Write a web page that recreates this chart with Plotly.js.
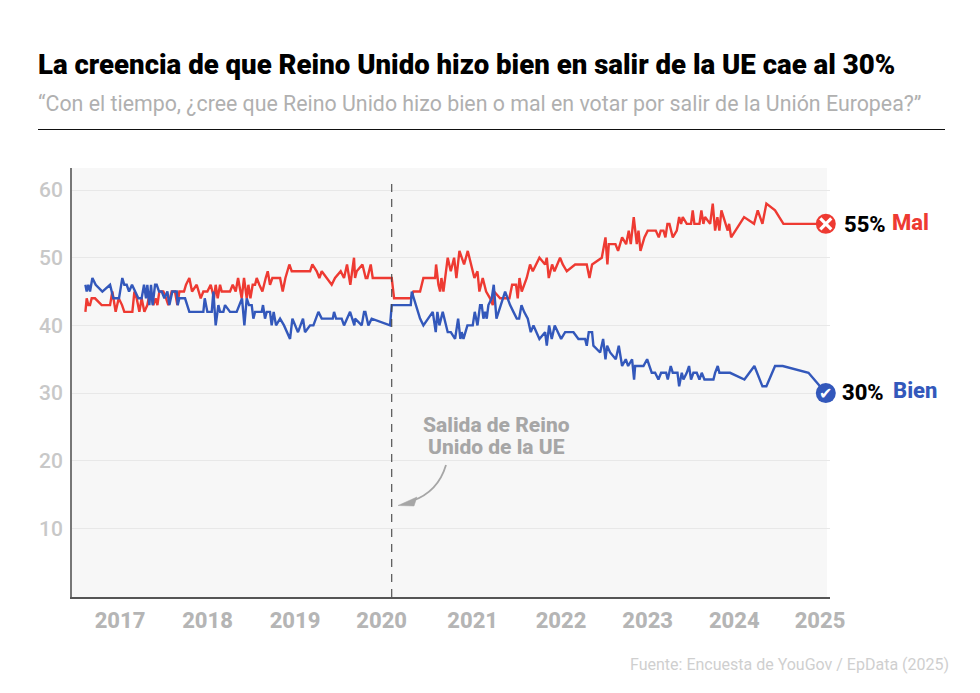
<!DOCTYPE html>
<html><head><meta charset="utf-8">
<script src="https://cdn.plot.ly/plotly-3.0.1.min.js"></script>
<style>html,body{margin:0;padding:0;background:#fff}#chart{width:980px;height:693px}</style>
</head><body><div id="chart"></div>
<script>
const malYears=[2016.604,2016.619,2016.638,2016.657,2016.676,2016.714,2016.790,2016.886,2016.912,2016.950,2016.985,2017.023,2017.049,2017.141,2017.164,2017.190,2017.221,2017.247,2017.278,2017.312,2017.343,2017.381,2017.407,2017.427,2017.449,2017.495,2017.526,2017.552,2017.590,2017.628,2017.655,2017.678,2017.731,2017.754,2017.792,2017.823,2017.876,2017.922,2017.952,2017.998,2018.036,2018.074,2018.093,2018.116,2018.143,2018.162,2018.257,2018.288,2018.322,2018.349,2018.390,2018.417,2018.448,2018.467,2018.490,2018.516,2018.543,2018.562,2018.592,2018.627,2018.665,2018.688,2018.714,2018.741,2018.829,2018.859,2018.890,2018.935,2018.962,2019.172,2019.198,2019.248,2019.278,2019.305,2019.419,2019.457,2019.522,2019.560,2019.594,2019.632,2019.674,2019.686,2019.705,2019.770,2019.808,2019.827,2019.865,2019.888,2020.086,2020.105,2020.132,2020.323,2020.353,2020.429,2020.467,2020.601,2020.612,2020.639,2020.658,2020.673,2020.696,2020.745,2020.780,2020.818,2020.844,2020.879,2020.932,2020.974,2021.031,2021.050,2021.085,2021.107,2021.145,2021.184,2021.229,2021.260,2021.275,2021.344,2021.401,2021.450,2021.481,2021.526,2021.545,2021.565,2021.591,2021.648,2021.686,2021.717,2021.793,2021.858,2021.877,2021.900,2021.938,2021.965,2022.029,2022.060,2022.106,2022.201,2022.334,2022.365,2022.395,2022.506,2022.548,2022.570,2022.586,2022.662,2022.692,2022.738,2022.784,2022.814,2022.837,2022.871,2022.906,2022.925,2022.948,2022.993,2023.031,2023.123,2023.157,2023.180,2023.211,2023.233,2023.256,2023.279,2023.317,2023.363,2023.390,2023.412,2023.431,2023.477,2023.526,2023.545,2023.564,2023.622,2023.644,2023.667,2023.686,2023.744,2023.774,2023.801,2023.827,2023.850,2023.873,2023.926,2023.945,2023.961,2023.984,2024.132,2024.246,2024.288,2024.342,2024.387,2024.486,2024.582,2024.963,2025.066];
const malValues=[42,44,43,43,44,44,43,43,45,42,44,43,42,42,45,44,42,44,42,43,45,43,44,43,45,45,44,43,45,45,43,45,45,46,47,45,46,44,45,45,46,44,46,44,46,45,45,46,45,47,44,47,44,46,44,46,46,47,46,45,47,48,46,47,47,45,47,49,48,48,49,48,47,48,46,47,48,47,49,46,50,47,48,49,47,47,49,47,47,47,44,44,45,45,47,47,49,46,45,47,45,50,48,50,47,51,49,51,48,47,48,45,47,45,44,43,45,44,44,44,46,46,44,47,45,47,49,48,50,49,50,47,49,48,50,49,48,49,49,47,49,50,53,49,52,52,51,53,52,54,52,56,52,54,51,53,54,54,53,54,54,53,55,55,53,54,56,55,56,55,55,57,55,55,57,55,56,55,58,54,56,54,57,55,54,55,53,56,55,57,55,58,57,55,55,55];
const bienYears=[2016.604,2016.619,2016.638,2016.657,2016.684,2016.722,2016.798,2016.886,2016.924,2016.988,2017.026,2017.049,2017.076,2017.103,2017.137,2017.171,2017.209,2017.247,2017.274,2017.297,2017.312,2017.335,2017.354,2017.373,2017.400,2017.419,2017.446,2017.476,2017.507,2017.541,2017.564,2017.598,2017.648,2017.659,2017.678,2017.743,2017.792,2017.952,2017.968,2017.998,2018.048,2018.067,2018.093,2018.124,2018.143,2018.181,2018.200,2018.257,2018.333,2018.394,2018.421,2018.448,2018.474,2018.505,2018.524,2018.543,2018.619,2018.634,2018.657,2018.676,2018.714,2018.733,2018.756,2018.783,2018.829,2018.874,2018.943,2018.970,2019.034,2019.091,2019.114,2019.172,2019.210,2019.267,2019.305,2019.431,2019.446,2019.469,2019.533,2019.560,2019.629,2019.678,2019.686,2019.762,2019.789,2019.804,2019.838,2019.876,2020.086,2020.105,2020.323,2020.334,2020.383,2020.429,2020.467,2020.574,2020.608,2020.627,2020.650,2020.688,2020.745,2020.780,2020.829,2020.864,2020.890,2020.905,2020.925,2020.970,2021.031,2021.054,2021.085,2021.115,2021.134,2021.153,2021.172,2021.191,2021.210,2021.248,2021.271,2021.302,2021.401,2021.458,2021.496,2021.534,2021.561,2021.588,2021.618,2021.660,2021.694,2021.725,2021.793,2021.858,2021.877,2021.904,2021.934,2021.968,2022.041,2022.087,2022.182,2022.239,2022.315,2022.334,2022.357,2022.395,2022.410,2022.487,2022.521,2022.548,2022.567,2022.601,2022.666,2022.700,2022.738,2022.780,2022.807,2022.852,2022.875,2022.887,2022.982,2023.024,2023.077,2023.115,2023.153,2023.184,2023.241,2023.260,2023.294,2023.317,2023.371,2023.390,2023.420,2023.439,2023.477,2023.503,2023.526,2023.553,2023.591,2023.622,2023.648,2023.679,2023.782,2023.801,2023.831,2023.850,2023.972,2024.136,2024.250,2024.342,2024.387,2024.486,2024.574,2024.868,2025.066];
const bienValues=[46,45,46,45,47,46,45,46,44,44,47,46,46,45,46,45,44,44,46,44,46,43,46,43,46,46,45,45,44,45,43,45,45,43,44,44,42,42,44,42,42,45,40,43,42,42,43,42,42,44,40,44,43,43,41,42,42,43,41,42,42,40,42,40,41,40,38,41,39,41,39,40,40,42,41,41,42,41,41,40,42,40,41,40,42,42,40,41,40,43,43,45,43,41,40,42,39,42,40,42,39,39,38,41,38,39,38,40,40,42,40,43,43,41,42,41,43,44,46,41,45,43,42,41,41,43,42,41,39,40,38,39,37,40,38,40,38,39,39,38,38,37,39,39,37,36,38,35,37,36,35,37,34,35,34,35,32,34,34,35,33,33,32,33,33,32,34,33,33,31,33,32,33,34,32,33,33,32,33,32,32,33,34,33,33,32,34,31,31,34,34,33,30];
const yearTickPositions=[2017,2018,2019,2019.99,2021.03,2022.04,2023.03,2024.02,2025];
const yearTickLabels=['2017','2018','2019','2020','2021','2022','2023','2024','2025'];
const valueTicks=[10,20,30,40,50,60];
const brexitYear=2020.105;
const lastYear=2025.066, lastMal=55, lastBien=30;

const W=980,H=693;
const fx=p=>p/W, fy=p=>1-p/H;
const RED='#ee3a32',BLUE='#3358bb',F='Roboto, sans-serif';

const data=[
 {x:malYears,y:malValues,mode:'lines',name:'Mal',line:{color:RED,width:2.4,shape:'linear'},hoverinfo:'x+y'},
 {x:bienYears,y:bienValues,mode:'lines',name:'Bien',line:{color:BLUE,width:2.4,shape:'linear'},hoverinfo:'x+y'},
 {x:[lastYear],y:[lastMal],mode:'markers',marker:{color:RED,size:20},cliponaxis:false,hoverinfo:'skip'},
 {x:[lastYear],y:[lastBien],mode:'markers',marker:{color:BLUE,size:20},cliponaxis:false,hoverinfo:'skip'},
 {x:[lastYear],y:[lastMal],mode:'markers',marker:{symbol:'x-thin',size:11,line:{color:'#fff',width:3.2}},cliponaxis:false,hoverinfo:'skip'}
];
const ann=(text,px,py,size,color,weight,xa,extra)=>Object.assign({text,xref:'paper',yref:'paper',x:fx(px),y:fy(py),xanchor:xa||'left',yanchor:'middle',showarrow:false,font:{family:F,size,color,weight:weight||400}},extra||{});
const layout={
 width:W,height:H,showlegend:false,paper_bgcolor:'#fff',plot_bgcolor:'rgba(0,0,0,0)',
 margin:{l:0,r:0,t:0,b:0,autoexpand:false},
 font:{family:F},
 title:{text:'La creencia de que Reino Unido hizo bien en salir de la UE cae al 30%',x:fx(38),y:fy(64),xref:'paper',yref:'paper',xanchor:'left',yanchor:'middle',font:{family:F,size:27.6,color:'#000',weight:900}},
 xaxis:{domain:[fx(72),fx(830)],range:[2016.451,2025.114],tickmode:'array',tickvals:yearTickPositions,ticktext:yearTickLabels,showgrid:false,zeroline:false,showline:true,linecolor:'#555',linewidth:1.5,ticks:'',ticklabelstandoff:3,tickfont:{family:F,size:22,color:'#b5b5b5',weight:800}},
 yaxis:{domain:[fy(597),fy(168)],range:[-0.12,63.25],tickmode:'array',tickvals:valueTicks,ticktext:valueTicks.map(String),showgrid:true,gridcolor:'#e8e8e8',gridwidth:1,zeroline:false,showline:true,linecolor:'#777',linewidth:1.8,ticks:'',ticklabelstandoff:3,tickfont:{family:F,size:21,color:'#c8c8c8',weight:500}},
 shapes:[
  {type:'rect',xref:'paper',yref:'paper',x0:fx(72),x1:fx(827),y0:fy(597),y1:fy(168),fillcolor:'#f7f7f7',line:{width:0},layer:'below'},
  {type:'line',xref:'paper',yref:'paper',x0:fx(38),x1:fx(945),y0:fy(129.5),y1:fy(129.5),line:{color:'#111',width:1}},
  {type:'line',xref:'x',yref:'paper',x0:brexitYear,x1:brexitYear,y0:fy(597),y1:fy(181),line:{color:'#444',width:1.1,dash:'8px,7px'}},
  {type:'path',xref:'paper',yref:'paper',path:`M ${fx(446)} ${fy(465)} Q ${fx(438)} ${fy(492)} ${fx(412)} ${fy(501)}`,line:{color:'#a6a6a6',width:1.8}},
  {type:'path',xref:'paper',yref:'paper',path:`M ${fx(398)} ${fy(505.5)} L ${fx(417)} ${fy(497)} L ${fx(414)} ${fy(506)} Z`,fillcolor:'#a6a6a6',line:{color:'#a6a6a6',width:0.5}}
 ],
 annotations:[
  ann('“Con el tiempo, ¿cree que Reino Unido hizo bien o mal en votar por salir de la Unión Europea?”',36,104,21.35,'#b0b0b0',400),
  ann('Salida de Reino',496.5,424.5,21,'#a6a6a6',800,'center'),
  ann('Unido de la UE',496.5,446.5,21,'#a6a6a6',800,'center'),
  ann('55%',842,224,22,'#000',800),
  ann('Mal',890,222,22,RED,800),
  ann('30%',840,392,22,'#000',800),
  ann('Bien',891,391,22,BLUE,800),
  ann('Fuente: Encuesta de YouGov / EpData (2025)',951,664,16,'#cfcfcf',400,'right'),
  {text:'✔',xref:'x',yref:'y',x:lastYear,y:lastBien,showarrow:false,xanchor:'center',yanchor:'middle',font:{family:'DejaVu Sans',size:16,color:'#fff'}}
 ]
};
Plotly.newPlot('chart',data,layout,{displayModeBar:false,responsive:false});
</script></body></html>
